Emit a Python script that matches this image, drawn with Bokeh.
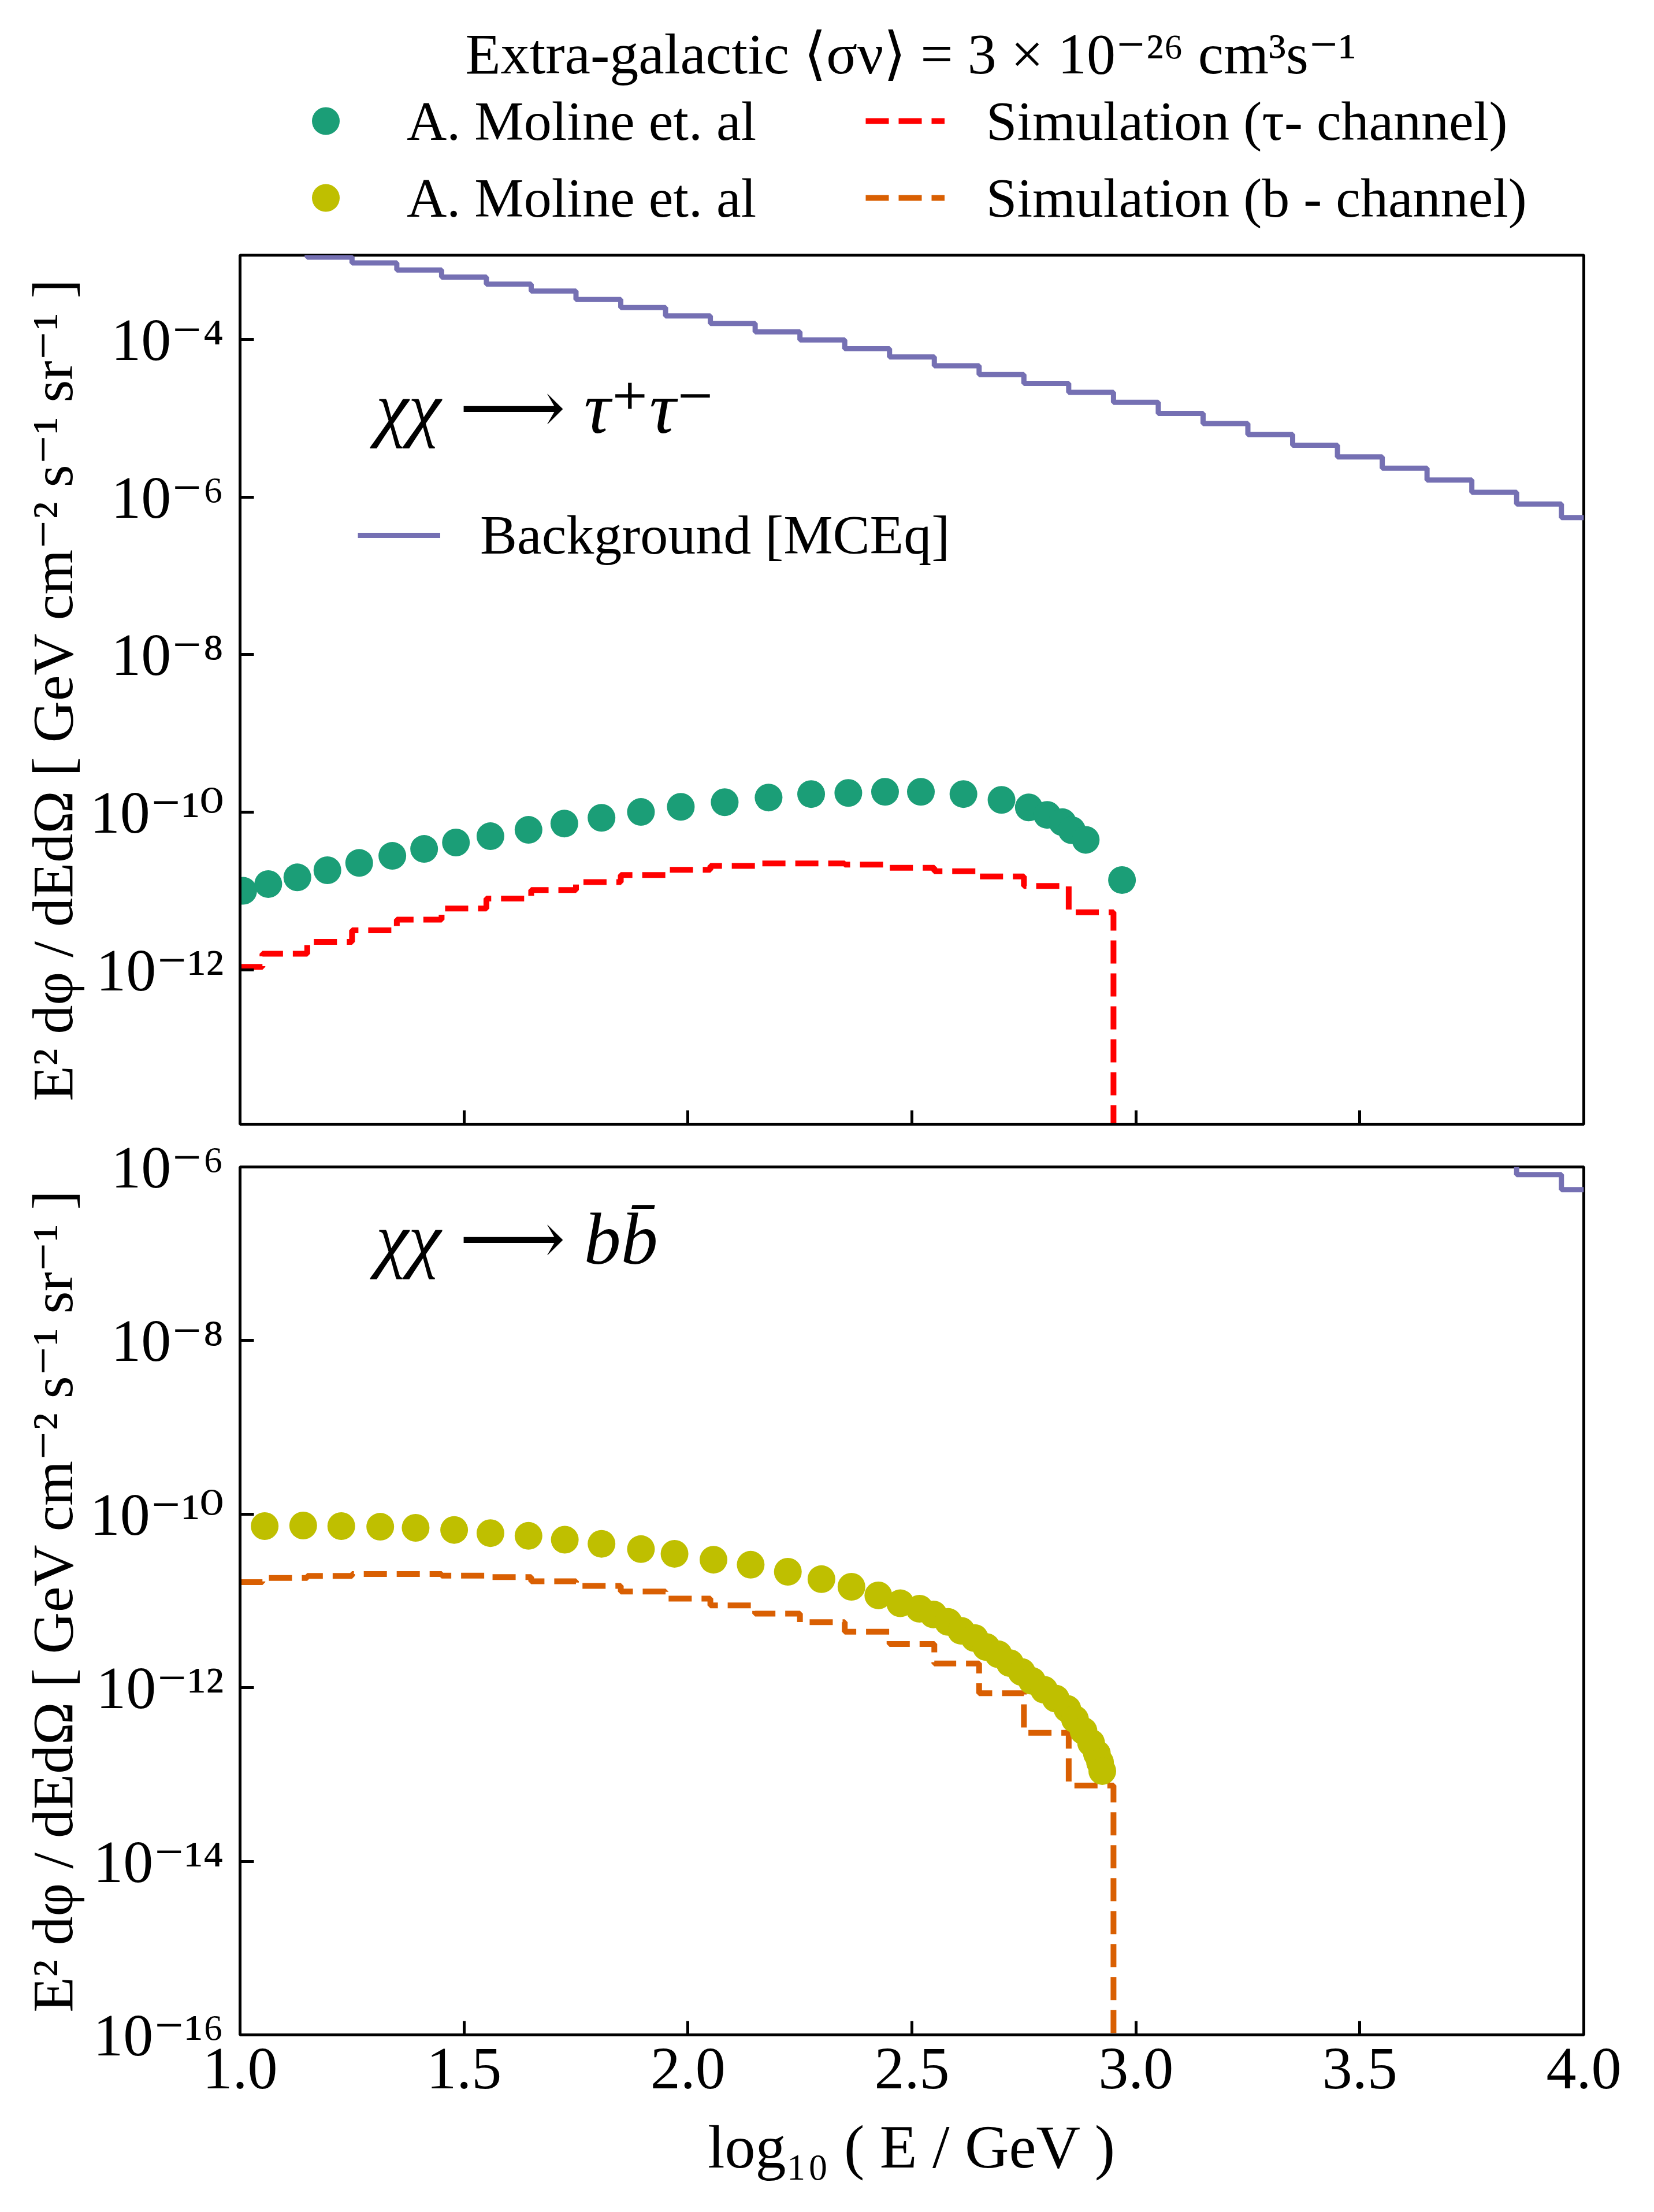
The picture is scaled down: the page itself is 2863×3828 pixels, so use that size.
import numpy as np
from bokeh.plotting import figure
from bokeh.layouts import column
from bokeh.models import (Legend, LegendItem, Label, FixedTicker,
                          CustomJSTickFormatter, Range1d)
from bokeh.embed import file_html
from bokeh.resources import INLINE

FONT = "Liberation Serif, DejaVu Serif"
TEAL = "#1b9e77"
RED = "#ff0000"
YELLOW = "#bfbf00"
ORANGE = "#d95f02"
PURPLE = "#7570b3"

# ---------------- data (x = log10(E/GeV), y = log10 of E^2 dphi/dE dOmega) ----------------
# Background [MCEq], step histogram (bin centres)
bkg_x = [1.1, 1.2, 1.3, 1.4, 1.5, 1.6, 1.7, 1.8, 1.9, 2.0,
         2.1, 2.2, 2.3, 2.4, 2.5, 2.6, 2.7, 2.8, 2.9, 3.0,
         3.1, 3.2, 3.3, 3.4, 3.5, 3.6, 3.7, 3.8, 3.9, 4.0]
bkg_logy = [-2.87, -2.955, -3.029, -3.118, -3.209, -3.298, -3.387, -3.492, -3.596, -3.701,
            -3.798, -3.903, -4.007, -4.118, -4.223, -4.335, -4.447, -4.559, -4.671, -4.798,
            -4.940, -5.067, -5.208, -5.343, -5.492, -5.634, -5.784, -5.940, -6.089, -6.261]

# Simulation, tau channel (step histogram, bin centres); last bin empty
sim_x = [1.0, 1.1, 1.2, 1.3, 1.4, 1.5, 1.6, 1.7, 1.8, 1.9, 2.0,
         2.1, 2.2, 2.3, 2.4, 2.5, 2.6, 2.7, 2.8, 2.9, 3.0]
sim_tau_logy = [-11.963, -11.797, -11.646, -11.500, -11.364, -11.222, -11.096, -10.988, -10.888, -10.798,
                -10.731, -10.681, -10.651, -10.651, -10.666, -10.705, -10.749, -10.815, -10.937, -11.271,
                -30.0]
# Simulation, b channel
sim_b_logy = [-10.783, -10.736, -10.712, -10.691, -10.691, -10.708, -10.725, -10.773, -10.827, -10.892,
              -10.973, -11.051, -11.147, -11.245, -11.354, -11.496, -11.720, -12.064, -12.519, -13.127,
              -30.0]

# A. Moline et. al, tau channel
mol_tau_x = [1.007, 1.063, 1.128, 1.195, 1.266, 1.340, 1.411, 1.482, 1.559, 1.644,
             1.724, 1.807, 1.895, 1.984, 2.082, 2.180, 2.275, 2.358, 2.440, 2.520,
             2.615, 2.700, 2.761, 2.802, 2.836, 2.857, 2.888, 2.969]
mol_tau_logy = [-10.998, -10.912, -10.827, -10.737, -10.644, -10.554, -10.466, -10.385, -10.305, -10.224,
                -10.144, -10.071, -9.997, -9.932, -9.873, -9.814, -9.770, -9.756, -9.741, -9.741,
                -9.770, -9.844, -9.939, -10.034, -10.127, -10.229, -10.351, -10.861]

# A. Moline et. al, b channel
mol_b_x = [1.055, 1.141, 1.226, 1.313, 1.392, 1.478, 1.559, 1.644, 1.725, 1.807,
           1.895, 1.970, 2.057, 2.140, 2.223, 2.298, 2.365, 2.425, 2.474, 2.517,
           2.548, 2.581, 2.610, 2.640, 2.666, 2.693, 2.719, 2.745, 2.768, 2.795,
           2.821, 2.847, 2.864, 2.883, 2.900, 2.913, 2.920, 2.925]
mol_b_logy = [-10.138, -10.131, -10.138, -10.145, -10.158, -10.182, -10.219, -10.250, -10.294, -10.342,
              -10.403, -10.457, -10.525, -10.583, -10.664, -10.749, -10.837, -10.936, -11.027, -11.090,
              -11.156, -11.242, -11.344, -11.428, -11.531, -11.615, -11.717, -11.819, -11.921, -12.023,
              -12.125, -12.244, -12.363, -12.498, -12.635, -12.760, -12.860, -12.960]

x_ticks = [1.0, 1.5, 2.0, 2.5, 3.0, 3.5, 4.0]
y_ticks_top = [1e-4, 1e-6, 1e-8, 1e-10, 1e-12]
y_ticks_bot = [1e-6, 1e-8, 1e-10, 1e-12, 1e-14, 1e-16]

title_text = "Extra-galactic \u27e8\u03c3\u03bd\u27e9 = 3 \u00d7 10\u207b\u00b2\u2076 cm\u00b3s\u207b\u00b9"
ylabel = "E\u00b2 d\u03c6 / dEd\u03a9 [ GeV cm\u207b\u00b2 s\u207b\u00b9 sr\u207b\u00b9 ]"
xlabel = "log\u2081\u2080 ( E / GeV )"
label_moline = "A. Moline et. al"
label_sim_tau = "Simulation (\u03c4- channel)"
label_sim_b = "Simulation (b - channel)"
label_bkg = "Background [MCEq]"
text_tau = "\u03c7\u03c7 \u27f6 \u03c4\u207a\u03c4\u207b"
text_b = "\u03c7\u03c7 \u27f6 bb\u0304"

BKG_LW = 9
SIM_LW = 10
SIM_DASH = "40 17"


def tolin(a):
    return (10.0 ** np.asarray(a, dtype=float)).tolist()


YFMT = CustomJSTickFormatter(code="""
const e = Math.round(Math.log10(tick));
const m = {'-':'\u207b','0':'\u2070','1':'\u00b9','2':'\u00b2','3':'\u00b3','4':'\u2074',
           '5':'\u2075','6':'\u2076','7':'\u2077','8':'\u2078','9':'\u2079'};
return '10' + String(e).split('').map(c => m[c]).join('');
""")

W = 2840
TICK_FS = "104px"


def make_fig(height, ymin, ymax, btop, bbot, yticks):
    p = figure(width=W, height=height, x_range=Range1d(1.0, 4.0),
               y_range=Range1d(ymin, ymax), y_axis_type="log",
               output_backend="svg", toolbar_location=None, title=None,
               min_border_left=415, min_border_right=99,
               min_border_top=btop, min_border_bottom=bbot)
    p.grid.visible = False
    p.outline_line_color = "black"
    p.outline_line_width = 5
    p.background_fill_color = "white"
    p.border_fill_color = "white"
    for ax in (p.xaxis, p.yaxis):
        ax.axis_line_width = 5
        ax.axis_line_color = "black"
        ax.major_tick_line_width = 5
        ax.major_tick_in = 24
        ax.major_tick_out = 0
        ax.minor_tick_line_color = None
        ax.major_label_text_font = FONT
        ax.major_label_text_font_size = TICK_FS
        ax.major_label_text_color = "black"
        ax.axis_label_text_font = FONT
        ax.axis_label_text_font_style = "normal"
        ax.axis_label_text_color = "black"
    p.xaxis.ticker = FixedTicker(ticks=x_ticks, minor_ticks=[])
    p.yaxis.ticker = FixedTicker(ticks=yticks, minor_ticks=[])
    p.yaxis.formatter = YFMT
    p.yaxis.major_label_standoff = 28
    p.yaxis.axis_label = ylabel
    p.yaxis.axis_label_text_font_size = "100px"
    p.yaxis.axis_label_standoff = 6
    return p


# ---------------- header (title + legend) ----------------
# The header frame is aligned with the panels' frames by the column layout.
# Its ranges exclude all data, so the series drawn here only feed the legend glyphs.
HDR_H = 431
ph = figure(width=W, height=HDR_H, x_range=Range1d(-2, -1), y_range=Range1d(-2, -1),
            output_backend="svg", toolbar_location=None, title=None,
            x_axis_location=None, y_axis_location=None,
            min_border_left=415, min_border_right=99, min_border_top=0, min_border_bottom=0)
ph.grid.visible = False
ph.outline_line_color = None
ph.background_fill_color = "white"
ph.border_fill_color = "white"
h_moltau = ph.scatter(mol_tau_x, tolin(mol_tau_logy), size=48, fill_color=TEAL,
                      line_color=TEAL, line_width=0)
h_molb = ph.scatter(mol_b_x, tolin(mol_b_logy), size=48, fill_color=YELLOW,
                    line_color=YELLOW, line_width=0)
h_simtau = ph.step(sim_x, tolin(sim_tau_logy), mode="center", line_color=RED,
                   line_width=SIM_LW, line_dash=SIM_DASH)
h_simb = ph.step(sim_x, tolin(sim_b_logy), mode="center", line_color=ORANGE,
                 line_width=SIM_LW, line_dash=SIM_DASH)

common_leg = dict(glyph_width=137, glyph_height=120, label_standoff=72, spacing=13,
                  padding=0, margin=0, border_line_color=None, background_fill_alpha=0,
                  label_text_font=FONT, label_text_font_size="96px", label_text_color="black",
                  orientation="vertical")
leg_a = Legend(items=[LegendItem(label=label_moline, renderers=[h_moltau]),
                      LegendItem(label=label_moline, renderers=[h_molb])],
               location=(80, 29), **common_leg)
leg_b = Legend(items=[LegendItem(label=label_sim_tau, renderers=[h_simtau]),
                      LegendItem(label=label_sim_b, renderers=[h_simb])],
               location=(1083, 29), **common_leg)
ph.add_layout(leg_a)
ph.add_layout(leg_b)
ph.add_layout(Label(x=1161, y=338, x_units="screen", y_units="screen", text=title_text,
                    text_font=FONT, text_font_size="100px", text_align="center",
                    text_baseline="alphabetic", text_color="black"))

# ---------------- top panel (tau) ----------------
p1 = make_fig(1524, 10 ** -13.96, 10 ** -2.93, 10, 10, y_ticks_top)
p1.xaxis.formatter = CustomJSTickFormatter(code="return '';")
p1.xaxis.major_label_text_font_size = "0px"
p1.xaxis.major_label_standoff = 0

r_bkg1 = p1.step(bkg_x, tolin(bkg_logy), mode="center", line_color=PURPLE, line_width=BKG_LW)
p1.step(sim_x, tolin(sim_tau_logy), mode="center", line_color=RED,
        line_width=SIM_LW, line_dash=SIM_DASH)
p1.scatter(mol_tau_x, tolin(mol_tau_logy), size=48, fill_color=TEAL,
           line_color=TEAL, line_width=0)

leg_bkg = Legend(items=[LegendItem(label=label_bkg, renderers=[r_bkg1])],
                 location=(204, 964), glyph_width=143, glyph_height=110, label_standoff=69,
                 padding=0, margin=0, border_line_color=None, background_fill_alpha=0,
                 label_text_font=FONT, label_text_font_size="96px", label_text_color="black")
p1.add_layout(leg_bkg)
p1.add_layout(Label(x=235, y=1240, x_units="screen", y_units="screen", text=text_tau,
                    text_font=FONT, text_font_style="italic", text_font_size="128px",
                    text_baseline="alphabetic", text_color="black"))

# ---------------- bottom panel (b) ----------------
p2 = make_fig(1847, 1e-16, 1e-6, 64, 281, y_ticks_bot)
p2.xaxis.formatter = CustomJSTickFormatter(code="return tick.toFixed(1);")
p2.xaxis.major_label_standoff = 24
p2.xaxis.axis_label = xlabel
p2.xaxis.axis_label_text_font_size = "106px"
p2.xaxis.axis_label_standoff = 40

p2.step(bkg_x, tolin(bkg_logy), mode="center", line_color=PURPLE, line_width=BKG_LW)
p2.step(sim_x, tolin(sim_b_logy), mode="center", line_color=ORANGE,
        line_width=SIM_LW, line_dash=SIM_DASH)
p2.scatter(mol_b_x, tolin(mol_b_logy), size=48, fill_color=YELLOW,
           line_color=YELLOW, line_width=0)
p2.add_layout(Label(x=235, y=1378, x_units="screen", y_units="screen", text=text_b,
                    text_font=FONT, text_font_style="italic", text_font_size="128px",
                    text_baseline="alphabetic", text_color="black"))

layout = column(ph, p1, p2, spacing=0)
open("out.html", "w").write(file_html(layout, INLINE))
